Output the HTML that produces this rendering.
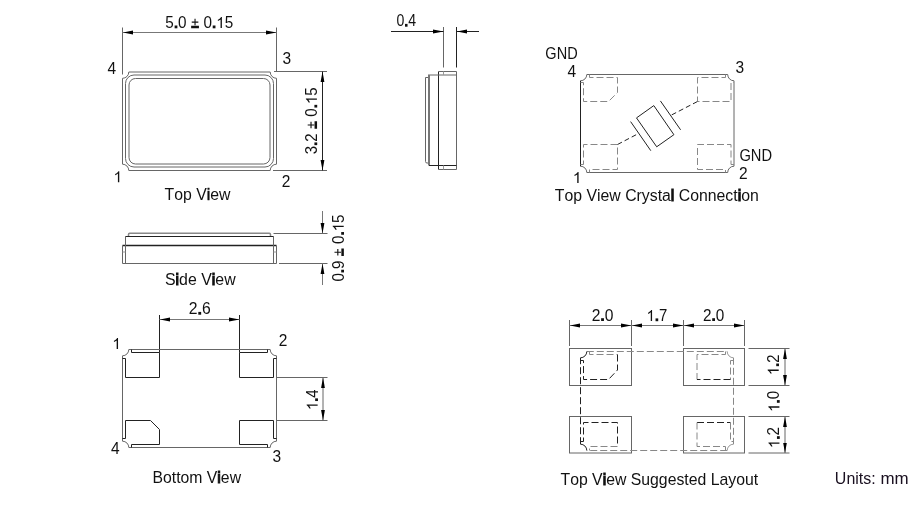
<!DOCTYPE html>
<html><head><meta charset="utf-8">
<style>
html,body{margin:0;padding:0;background:#fff;width:908px;height:528px;overflow:hidden;}
svg{display:block;will-change:transform;}
text{font-family:"Liberation Sans",sans-serif;fill:#111;font-kerning:none;}
.h{fill:transparent;}
.b{stroke:#111;stroke-width:1.1px;}
.b2{stroke:#111;stroke-width:0.5px;}
.one{fill:#111;stroke:none;}
.t{font-size:16px;}
.u{font-size:16px;fill:#1a1020;}
.n{font-size:16px;}
.g{font-size:16px;}
.ln{fill:none;stroke:#666;stroke-width:1;}
.lk{fill:none;stroke:#222;stroke-width:1;}
.lg{fill:none;stroke:#777;stroke-width:1;}
.ll{fill:none;stroke:#999;stroke-width:1;}
.lid{fill:none;stroke:#888;stroke-width:1.5;}
.ds{fill:none;stroke:#888;stroke-width:1;stroke-dasharray:7 3;}
.dk{fill:none;stroke:#222;stroke-width:1;stroke-dasharray:7 3;}

</style></head>
<body>
<svg width="908" height="528" viewBox="0 0 908 528">
<defs>
<marker id="ar" viewBox="0 0 10.5 4.4" refX="10.5" refY="2.2" markerWidth="10.5" markerHeight="4.4" markerUnits="userSpaceOnUse" orient="auto-start-reverse">
<path d="M0,0.3 L10.5,2.2 L0,4.1 Z" fill="#000"/>
</marker>
</defs>
<g class="ink">
<path class="ln" d="M122.5,27.5 V74.5 M276.5,27.5 V71.5"/>
<line class="lg" x1="122.5" y1="32.5" x2="276.5" y2="32.5" marker-start="url(#ar)" marker-end="url(#ar)"/>
<path class="ln" d="M128.8,72 H270.2 A6.3,6.3 0 0 0 276.5,78.3 V164.2 A6.3,6.3 0 0 0 270.2,170.5 H128.8 A6.3,6.3 0 0 0 122.5,164.2 V78.3 A6.3,6.3 0 0 0 128.8,72 Z"/>
<rect class="ln" x="125.5" y="75" width="148" height="92" rx="8.5" ry="8.5"/>
<rect class="ln" x="129" y="78.5" width="141" height="85.5" rx="6.5" ry="6.5"/>
<path class="ln" d="M274,71.5 H327 M273,170.5 H327"/>
<line class="lk" x1="322.5" y1="71.5" x2="322.5" y2="170.5" marker-start="url(#ar)" marker-end="url(#ar)"/>
</g>
<g class="ink">
<path class="ln" d="M443.5,27 V67.5"/>
<path class="lk" d="M456.5,27 V67.5"/>
<line class="lk" x1="391" y1="31.5" x2="443.5" y2="31.5" marker-end="url(#ar)"/>
<line class="lk" x1="479" y1="31.5" x2="456.5" y2="31.5" marker-end="url(#ar)"/>
<path class="lk" d="M438.5,71.5 V169.5"/>
<path class="ln" d="M438.5,71.5 H456.5 V169.5 H438.5"/>
<path class="ln" d="M428,75 H456.5"/>
<path style="fill:none;stroke:#777;stroke-width:2" d="M429,75 V165.5"/>
<path class="lk" d="M429,165.5 H456.5"/>
<path class="ll" d="M443.5,71.5 V75 M443.5,165.5 V169.5"/>
<path class="ln" d="M428,77.5 H425.5 V161.5 Q425.5,163 427,163 H428"/>
</g>
<g class="ink">
<path class="ln" d="M586.8,74.5 H727.7 A6.3,6.3 0 0 0 734,80.8 V166.2 A6.3,6.3 0 0 0 727.7,172.5 H586.8 A6.3,6.3 0 0 0 580.5,166.2 V80.8 A6.3,6.3 0 0 0 586.8,74.5 Z"/>
<path class="lk" d="M580.5,80.8 V166.2"/>
<path class="ds" d="M589.5,74.5 V77.5 H617.5 V92.5 L608.5,101.5 H583.5 V82.5 H580.5"/>
<path class="ds" d="M725.5,74.5 V77.5 H697.5 V101.5 H731 V82.5 H734"/>
<path class="ds" d="M580.5,164.5 H583.5 V144.5 H617.5 V169.5 H589.5 V172.5"/>
<path class="ds" d="M734,164.5 H731 V144.5 H697.5 V169.5 H725.5 V172.5"/>
<path class="lk" d="M636.5,117.9 L653.8,105.6 L673.9,134.7 L656.7,146.8 Z"/>
<path class="lk" d="M630.6,121.6 L650.8,150.7 M660.4,100.9 L680.6,129.8"/>
<path class="dk" style="stroke-dasharray:5 3" d="M617.5,144.5 L638.5,133.5 M671.7,114.9 L697.5,101.5"/>
</g>
<g class="ink">
<path class="lk" style="stroke-width:1.3" d="M122.5,245.5 H276.5"/>
<path class="ln" d="M122.5,245.5 V263.5 H276.5 V245.5 M125.5,236.5 V263.5 M273.5,236.5 V263.5"/>
<path class="lk" d="M125.5,236.5 H273.5"/>
<path class="ll" d="M122.5,252 H125.5 M273.5,252 H276.5"/>
<path class="lid" d="M128.5,236 V234.5 Q128.5,233.3 129.7,233.3 H269.3 Q270.5,233.3 270.5,234.5 V236"/>
<path class="ln" d="M273.5,233.5 H327.5 M279,263.5 H327.5"/>
<line class="lg" x1="322.5" y1="211" x2="322.5" y2="233.5" marker-end="url(#ar)"/>
<line class="lg" x1="322.5" y1="285" x2="322.5" y2="263.5" marker-end="url(#ar)"/>
</g>
<g class="ink">
<path class="lk" d="M159.5,315 V352.5 M239.5,315 V352.5"/>
<line class="lg" x1="159.5" y1="319.5" x2="239.5" y2="319.5" marker-start="url(#ar)" marker-end="url(#ar)"/>
<path class="ln" d="M128.8,349.5 H270.2 A6.3,6.3 0 0 0 276.5,355.8 V441.2 A6.3,6.3 0 0 0 270.2,447.5 H128.8 A6.3,6.3 0 0 0 122.5,441.2 V355.8 A6.3,6.3 0 0 0 128.8,349.5 Z"/>
<path class="lk" d="M131.5,349.5 V352.5 H159.5 V377.5 H125.5 V358.5 H122.5"/>
<path class="lk" d="M267.5,349.5 V352.5 H239.5 V377.5 H273.5 V358.5 H276.5"/>
<path class="lk" d="M122.5,438.5 H125.5 V420.5 H150.5 L159.5,429.5 V444.5 H131.5 V447.5"/>
<path class="lk" d="M276.5,438.5 H273.5 V420.5 H239.5 V444.5 H267.5 V447.5"/>
<path class="ln" d="M276.5,377.5 H327.5 M276.5,420.5 H327.5"/>
<line class="ln" x1="323" y1="377.5" x2="323" y2="420.5" marker-start="url(#ar)" marker-end="url(#ar)"/>
</g>
<g class="ink">
<path class="ln" d="M569.5,320 V346 M631.5,320 V346 M683.5,320 V346 M744.5,320 V346"/>
<line class="lg" x1="569.5" y1="325.5" x2="631.5" y2="325.5" marker-start="url(#ar)" marker-end="url(#ar)"/>
<line class="lg" x1="631.5" y1="325.5" x2="683.5" y2="325.5" marker-start="url(#ar)" marker-end="url(#ar)"/>
<line class="lg" x1="683.5" y1="325.5" x2="744.5" y2="325.5" marker-start="url(#ar)" marker-end="url(#ar)"/>
<rect class="ln" x="569.5" y="348.5" width="62" height="37"/>
<rect class="ln" x="569.5" y="416.5" width="62" height="36.5"/>
<rect class="ln" x="683.5" y="348.5" width="61" height="37"/>
<rect class="ln" x="683.5" y="416.5" width="61" height="36.5"/>
<path class="ds" d="M586.8,351.5 H727.2 M733.5,357.8 V444.2 M727.2,450.5 H586.8"/>
<path class="dk" d="M580.5,444.2 V357.8"/>
<path class="lk" d="M586.8,450.5 A6.3,6.3 0 0 0 580.5,444.2 M580.5,357.8 A6.3,6.3 0 0 0 586.8,351.5"/>
<path class="ll" d="M727.2,351.5 A6.3,6.3 0 0 0 733.5,357.8 M733.5,444.2 A6.3,6.3 0 0 0 727.2,450.5"/>
<path class="ds" d="M589.5,351.5 V354.5 H617.5"/>
<path class="dk" d="M617.5,354.5 V370 L608.5,379.5 H583.5 V360.5 H580.5"/>
<path class="ds" d="M725.5,351.5 V354.5 H697 V379.5 M733.5,360.5 H730.5 V379.5"/>
<path class="dk" d="M730.5,379.5 H697"/>
<path class="dk" d="M580.5,441.5 H583.5 V422.5 H617.5 V446.5"/>
<path class="ds" d="M617.5,446.5 H589.5 V450.5"/>
<path class="dk" d="M697,422.5 H730.5"/>
<path class="ds" d="M697,422.5 V446.5 H725.5 V450.5 M730.5,422.5 V441.5 H733.5"/>
<path class="ln" d="M748.5,348.5 H789.5 M748.5,385.5 H789.5 M748.5,416.5 H789.5 M748.5,453 H789.5"/>
<line class="ln" x1="785" y1="348.5" x2="785" y2="385.5" marker-start="url(#ar)" marker-end="url(#ar)"/>
<line class="ln" x1="785" y1="416.5" x2="785" y2="453" marker-start="url(#ar)" marker-end="url(#ar)"/>
</g>
<g id="g_tv_w" transform="translate(165.37,28.00) scale(0.9555,1.0000)"><text id="t_tv_w" class="n" x="0" y="0">5<tspan class="h">.</tspan>0 <tspan class="h">±</tspan> 0<tspan class="h">.</tspan><tspan class="h">1</tspan>5</text><path class="one" transform="translate(8.90,0.00) scale(0.00781,-0.00781)" d="M100,-40 H470 V320 H100 Z"/><path class="one" transform="translate(26.66,0.00) scale(0.00781,-0.00781)" d="M489,345 V680 H120 V825 H489 V1180 H636 V825 H1005 V680 H636 V345 Z M40,-20 H1085 V300 H40 Z"/><path class="one" transform="translate(48.76,0.00) scale(0.00781,-0.00781)" d="M100,-40 H470 V320 H100 Z"/><path class="one" transform="translate(53.20,0.00) scale(0.00781,-0.00781)" d="M763,0 H583 V1100 Q518,1040 412,981 Q307,921 223,892 V1059 Q374,1127 487,1224 Q600,1320 647,1409 H763 Z"/></g>
<g id="g_tv_h" transform="translate(316.90,120.80) rotate(-90) scale(0.9417,1.0000)"><text id="t_tv_h" class="n" x="0" y="0" text-anchor="middle">3<tspan class="h">.</tspan>2 <tspan class="h">±</tspan> 0<tspan class="h">.</tspan><tspan class="h">1</tspan>5</text><path class="one" transform="translate(-26.63,0.00) scale(0.00781,-0.00781)" d="M100,-40 H470 V320 H100 Z"/><path class="one" transform="translate(-8.84,0.00) scale(0.00781,-0.00781)" d="M489,345 V680 H120 V825 H489 V1180 H636 V825 H1005 V680 H636 V345 Z M40,-20 H1085 V300 H40 Z"/><path class="one" transform="translate(13.28,0.00) scale(0.00781,-0.00781)" d="M100,-40 H470 V320 H100 Z"/><path class="one" transform="translate(17.74,0.00) scale(0.00781,-0.00781)" d="M763,0 H583 V1100 Q518,1040 412,981 Q307,921 223,892 V1059 Q374,1127 487,1224 Q600,1320 647,1409 H763 Z"/></g>
<g id="g_tv_4" transform="translate(107.43,73.60) scale(0.9700,1.0000)"><text id="t_tv_4" class="n" x="0" y="0">4</text></g>
<g id="g_tv_3" transform="translate(282.50,63.75) scale(0.9700,1.0000)"><text id="t_tv_3" class="n" x="0" y="0">3</text></g>
<g id="g_tv_1" transform="translate(113.50,182.20) scale(0.9700,1.0000)"><text id="t_tv_1" class="n" x="0" y="0"><tspan class="h">1</tspan></text><path class="one" transform="translate(0.00,0.00) scale(0.00781,-0.00781)" d="M763,0 H583 V1100 Q518,1040 412,981 Q307,921 223,892 V1059 Q374,1127 487,1224 Q600,1320 647,1409 H763 Z"/></g>
<g id="g_tv_2" transform="translate(281.72,186.90) scale(0.9700,1.0000)"><text id="t_tv_2" class="n" x="0" y="0">2</text></g>
<g id="g_tv_t" transform="translate(164.58,200.20) scale(0.9895,1.0000)"><text id="t_tv_t" class="t" x="0" y="0">Top V<tspan class="b2">i</tspan>ew</text></g>
<g id="g_pr_04" transform="translate(396.46,26.40) scale(0.8814,1.0000)"><text id="t_pr_04" class="n" x="0" y="0">0<tspan class="h">.</tspan>4</text><path class="one" transform="translate(8.90,0.00) scale(0.00781,-0.00781)" d="M100,-40 H470 V320 H100 Z"/></g>
<g id="g_cc_g1" transform="translate(545.36,58.60) scale(0.9088,1.0000)"><text id="t_cc_g1" class="g" x="0" y="0">GND</text></g>
<g id="g_cc_4" transform="translate(567.45,77.40) scale(0.9700,1.0000)"><text id="t_cc_4" class="n" x="0" y="0">4</text></g>
<g id="g_cc_3" transform="translate(735.42,72.80) scale(0.9700,1.0000)"><text id="t_cc_3" class="n" x="0" y="0">3</text></g>
<g id="g_cc_g2" transform="translate(739.40,161.00) scale(0.9187,1.0000)"><text id="t_cc_g2" class="g" x="0" y="0">GND</text></g>
<g id="g_cc_1" transform="translate(572.81,183.00) scale(0.9700,1.0000)"><text id="t_cc_1" class="n" x="0" y="0"><tspan class="h">1</tspan></text><path class="one" transform="translate(0.00,0.00) scale(0.00781,-0.00781)" d="M763,0 H583 V1100 Q518,1040 412,981 Q307,921 223,892 V1059 Q374,1127 487,1224 Q600,1320 647,1409 H763 Z"/></g>
<g id="g_cc_2" transform="translate(738.91,179.10) scale(0.9700,1.0000)"><text id="t_cc_2" class="n" x="0" y="0">2</text></g>
<g id="g_cc_t" transform="translate(554.80,200.90) scale(0.9890,1.0000)"><text id="t_cc_t" class="t" x="0" y="0">Top View Crysta<tspan class="b">l</tspan> Connect<tspan class="b">i</tspan>on</text></g>
<g id="g_sv_h" transform="translate(343.70,248.05) rotate(-90) scale(0.9448,1.0000)"><text id="t_sv_h" class="n" x="0" y="0" text-anchor="middle">0<tspan class="h">.</tspan>9 <tspan class="h">±</tspan> 0<tspan class="h">.</tspan><tspan class="h">1</tspan>5</text><path class="one" transform="translate(-26.62,0.00) scale(0.00781,-0.00781)" d="M100,-40 H470 V320 H100 Z"/><path class="one" transform="translate(-8.84,0.00) scale(0.00781,-0.00781)" d="M489,345 V680 H120 V825 H489 V1180 H636 V825 H1005 V680 H636 V345 Z M40,-20 H1085 V300 H40 Z"/><path class="one" transform="translate(13.28,0.00) scale(0.00781,-0.00781)" d="M100,-40 H470 V320 H100 Z"/><path class="one" transform="translate(17.72,0.00) scale(0.00781,-0.00781)" d="M763,0 H583 V1100 Q518,1040 412,981 Q307,921 223,892 V1059 Q374,1127 487,1224 Q600,1320 647,1409 H763 Z"/></g>
<g id="g_sv_t" transform="translate(164.90,285.30) scale(0.9944,1.0000)"><text id="t_sv_t" class="t" x="0" y="0">S<tspan class="b">i</tspan>de V<tspan class="b">i</tspan>ew</text></g>
<g id="g_bv_w" transform="translate(188.78,314.40) scale(0.9845,1.0000)"><text id="t_bv_w" class="n" x="0" y="0">2<tspan class="h">.</tspan>6</text><path class="one" transform="translate(8.90,0.00) scale(0.00781,-0.00781)" d="M100,-40 H470 V320 H100 Z"/></g>
<g id="g_bv_h" transform="translate(317.65,399.70) rotate(-90) scale(0.9288,1.0000)"><text id="t_bv_h" class="n" x="0" y="0" text-anchor="middle"><tspan class="h">1</tspan><tspan class="h">.</tspan>4</text><path class="one" transform="translate(-11.13,0.00) scale(0.00781,-0.00781)" d="M763,0 H583 V1100 Q518,1040 412,981 Q307,921 223,892 V1059 Q374,1127 487,1224 Q600,1320 647,1409 H763 Z"/><path class="one" transform="translate(-2.23,0.00) scale(0.00781,-0.00781)" d="M100,-40 H470 V320 H100 Z"/></g>
<g id="g_bv_1" transform="translate(112.25,349.00) scale(0.9700,1.0000)"><text id="t_bv_1" class="n" x="0" y="0"><tspan class="h">1</tspan></text><path class="one" transform="translate(0.00,0.00) scale(0.00781,-0.00781)" d="M763,0 H583 V1100 Q518,1040 412,981 Q307,921 223,892 V1059 Q374,1127 487,1224 Q600,1320 647,1409 H763 Z"/></g>
<g id="g_bv_2" transform="translate(278.64,346.20) scale(0.9700,1.0000)"><text id="t_bv_2" class="n" x="0" y="0">2</text></g>
<g id="g_bv_4" transform="translate(110.90,453.90) scale(0.9700,1.0000)"><text id="t_bv_4" class="n" x="0" y="0">4</text></g>
<g id="g_bv_3" transform="translate(272.48,461.65) scale(0.9700,1.0000)"><text id="t_bv_3" class="n" x="0" y="0">3</text></g>
<g id="g_bv_t" transform="translate(152.48,483.40) scale(0.9873,1.0000)"><text id="t_bv_t" class="t" x="0" y="0">Bottom V<tspan class="b">i</tspan>ew</text></g>
<g id="g_ly_20a" transform="translate(591.66,320.70) scale(0.9773,1.0000)"><text id="t_ly_20a" class="n" x="0" y="0">2<tspan class="h">.</tspan>0</text><path class="one" transform="translate(8.90,0.00) scale(0.00781,-0.00781)" d="M100,-40 H470 V320 H100 Z"/></g>
<g id="g_ly_17" transform="translate(646.51,320.90) scale(0.9328,1.0000)"><text id="t_ly_17" class="n" x="0" y="0"><tspan class="h">1</tspan><tspan class="h">.</tspan>7</text><path class="one" transform="translate(0.00,0.00) scale(0.00781,-0.00781)" d="M763,0 H583 V1100 Q518,1040 412,981 Q307,921 223,892 V1059 Q374,1127 487,1224 Q600,1320 647,1409 H763 Z"/><path class="one" transform="translate(8.90,0.00) scale(0.00781,-0.00781)" d="M100,-40 H470 V320 H100 Z"/></g>
<g id="g_ly_20b" transform="translate(702.94,320.70) scale(0.9579,1.0000)"><text id="t_ly_20b" class="n" x="0" y="0">2<tspan class="h">.</tspan>0</text><path class="one" transform="translate(8.90,0.00) scale(0.00781,-0.00781)" d="M100,-40 H470 V320 H100 Z"/></g>
<g id="g_ly_12a" transform="translate(778.70,364.85) rotate(-90) scale(0.9179,1.0000)"><text id="t_ly_12a" class="n" x="0" y="0" text-anchor="middle"><tspan class="h">1</tspan><tspan class="h">.</tspan>2</text><path class="one" transform="translate(-11.13,0.00) scale(0.00781,-0.00781)" d="M763,0 H583 V1100 Q518,1040 412,981 Q307,921 223,892 V1059 Q374,1127 487,1224 Q600,1320 647,1409 H763 Z"/><path class="one" transform="translate(-2.22,0.00) scale(0.00781,-0.00781)" d="M100,-40 H470 V320 H100 Z"/></g>
<g id="g_ly_10" transform="translate(779.40,401.45) rotate(-90) scale(0.9405,1.0000)"><text id="t_ly_10" class="n" x="0" y="0" text-anchor="middle"><tspan class="h">1</tspan><tspan class="h">.</tspan>0</text><path class="one" transform="translate(-11.12,0.00) scale(0.00781,-0.00781)" d="M763,0 H583 V1100 Q518,1040 412,981 Q307,921 223,892 V1059 Q374,1127 487,1224 Q600,1320 647,1409 H763 Z"/><path class="one" transform="translate(-2.22,0.00) scale(0.00781,-0.00781)" d="M100,-40 H470 V320 H100 Z"/></g>
<g id="g_ly_12b" transform="translate(779.45,437.55) rotate(-90) scale(0.9497,1.0000)"><text id="t_ly_12b" class="n" x="0" y="0" text-anchor="middle"><tspan class="h">1</tspan><tspan class="h">.</tspan>2</text><path class="one" transform="translate(-11.14,0.00) scale(0.00781,-0.00781)" d="M763,0 H583 V1100 Q518,1040 412,981 Q307,921 223,892 V1059 Q374,1127 487,1224 Q600,1320 647,1409 H763 Z"/><path class="one" transform="translate(-2.23,0.00) scale(0.00781,-0.00781)" d="M100,-40 H470 V320 H100 Z"/></g>
<g id="g_ly_t" transform="translate(560.51,485.10) scale(0.9880,1.0000)"><text id="t_ly_t" class="t" x="0" y="0">Top V<tspan class="b">i</tspan>ew Suggested Layout</text></g>
<g id="g_units" transform="translate(834.87,483.90) scale(0.9979,1.0000)"><text id="t_units" class="u" x="0" y="0">Units:</text></g>
<g id="g_mm" transform="translate(880.40,484.40) scale(1.0600,1.0000)"><text id="t_mm" class="u" x="0" y="0">mm</text></g>
</svg>
</body></html>
